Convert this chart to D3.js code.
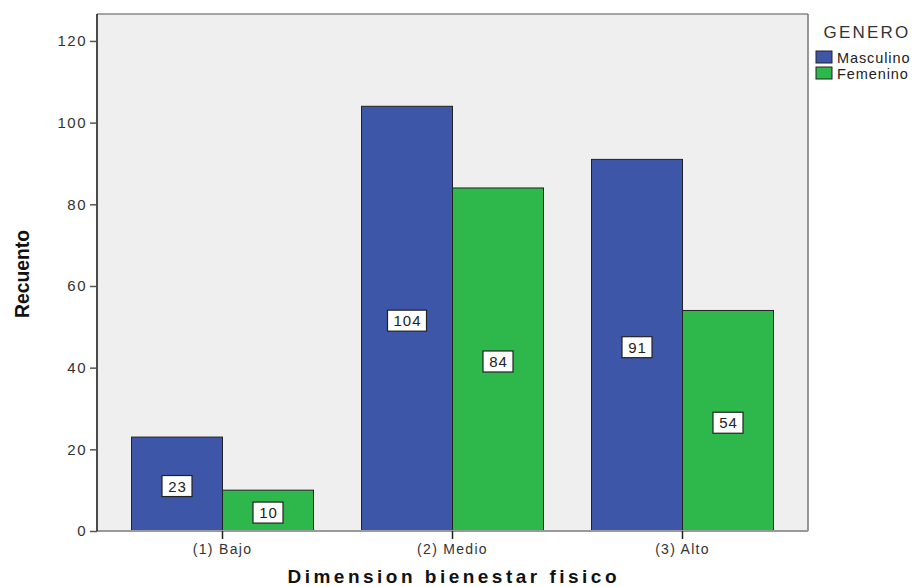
<!DOCTYPE html>
<html>
<head>
<meta charset="utf-8">
<script src="https://cdn.jsdelivr.net/npm/d3@7"></script>
<style>
body{margin:0;background:#fff;}
text{font-family:"Liberation Sans",Arial,sans-serif;}
</style>
</head>
<body>
<svg id="chart" width="923" height="587"></svg>
<script>
const categories = ["(1) Bajo", "(2) Medio", "(3) Alto"];
const seriesNames = ["Masculino", "Femenino"];
const masculino = [23, 104, 91];
const femenino = [10, 84, 54];
const yTicks = [0, 20, 40, 60, 80, 100, 120];
const colors = ["#3d56a7", "#2eb74b"];

const svg = d3.select("#chart");
const pLeft = 97, pRight = 808, pTop = 14, pBottom = 531;

const x = d3.scaleBand().domain(categories).range([pLeft, pRight]).paddingInner(0.2087).paddingOuter(0.15);
const xs = d3.scaleBand().domain(seriesNames).range([0, x.bandwidth()]);
const y = d3.scaleLinear().domain([0, 126.6]).range([pBottom, pTop]);

svg.append("rect").attr("x", pLeft).attr("y", pTop).attr("width", pRight - pLeft).attr("height", pBottom - pTop)
  .attr("fill", "#efefef");
svg.append("line").attr("x1", pLeft).attr("x2", pRight).attr("y1", pTop).attr("y2", pTop).attr("stroke", "#888").attr("stroke-width", 1.5);
svg.append("line").attr("x1", pRight).attr("x2", pRight).attr("y1", pTop).attr("y2", pBottom).attr("stroke", "#777").attr("stroke-width", 1.5);

const data = categories.map((c, i) => ({cat: c, vals: [masculino[i], femenino[i]]}));

const g = svg.append("g");
data.forEach(d => {
  d.vals.forEach((v, j) => {
    const bx = x(d.cat) + xs(seriesNames[j]);
    g.append("rect").attr("x", bx).attr("y", y(v)).attr("width", xs.bandwidth()).attr("height", y(0) - y(v))
      .attr("fill", colors[j]).attr("stroke", "#222").attr("stroke-width", 1);
  });
});

svg.append("line").attr("x1", pLeft).attr("x2", pRight).attr("y1", pBottom).attr("y2", pBottom).attr("stroke", "#999").attr("stroke-width", 2);

const lg = svg.append("g");
data.forEach(d => {
  d.vals.forEach((v, j) => {
    const cx = x(d.cat) + xs(seriesNames[j]) + xs.bandwidth() / 2;
    const cy = y(v / 2) + 2;
    const txt = String(v);
    const w = txt.length * 9 + 12;
    lg.append("rect").attr("x", cx - w / 2).attr("y", cy - 10.5).attr("width", w).attr("height", 21)
      .attr("fill", "#fff").attr("stroke", "#222").attr("stroke-width", 1.2);
    lg.append("text").attr("x", cx + 0.5).attr("y", cy + 5.5).attr("text-anchor", "middle")
      .attr("font-size", 15).attr("fill", "#222").attr("letter-spacing", 1).text(txt);
  });
});

const yAxis = svg.append("g").attr("transform", `translate(${pLeft},0)`)
  .call(d3.axisLeft(y).tickValues(yTicks).tickSize(7).tickPadding(3));
yAxis.select(".domain").attr("stroke", "#111").attr("stroke-width", 1.5).attr("d", `M0,${pTop}V${pBottom}`);
yAxis.selectAll(".tick line").attr("stroke", "#555").attr("stroke-width", 1.5);
yAxis.selectAll(".tick text").attr("font-size", 15).attr("fill", "#333").attr("letter-spacing", 1.5)
  .style("font-family", "Liberation Sans, Arial, sans-serif");

const xAxis = svg.append("g").attr("transform", `translate(0,${pBottom})`)
  .call(d3.axisBottom(x).tickSize(8).tickPadding(5));
xAxis.select(".domain").remove();
xAxis.selectAll(".tick line").attr("stroke", "#222").attr("stroke-width", 1.5);
xAxis.selectAll(".tick text").attr("font-size", 14).attr("fill", "#333").attr("letter-spacing", 1.3)
  .style("font-family", "Liberation Sans, Arial, sans-serif");

svg.append("text").attr("x", 452).attr("y", 583).attr("text-anchor", "middle")
  .attr("font-size", 19).attr("font-weight", "bold").attr("fill", "#111")
  .attr("textLength", 329).attr("lengthAdjust", "spacing")
  .text("Dimension bienestar fisico");
svg.append("text").attr("transform", "translate(29,274) rotate(-90)").attr("text-anchor", "middle")
  .attr("font-size", 20).attr("font-weight", "bold").attr("fill", "#111")
  .attr("textLength", 88).attr("lengthAdjust", "spacingAndGlyphs")
  .text("Recuento");

svg.append("text").attr("x", 867).attr("y", 38).attr("text-anchor", "middle")
  .attr("font-size", 17).attr("fill", "#333").attr("letter-spacing", 2.2).text("GENERO");
seriesNames.forEach((s, i) => {
  const ly = 51 + i * 16;
  svg.append("rect").attr("x", 816).attr("y", ly).attr("width", 16).attr("height", 12)
    .attr("fill", colors[i]).attr("stroke", "#222").attr("stroke-width", 1);
  svg.append("text").attr("x", 837).attr("y", ly + 11.5).attr("font-size", 14.5).attr("fill", "#222")
    .attr("letter-spacing", 0.9).text(s);
});
</script>
</body>
</html>
